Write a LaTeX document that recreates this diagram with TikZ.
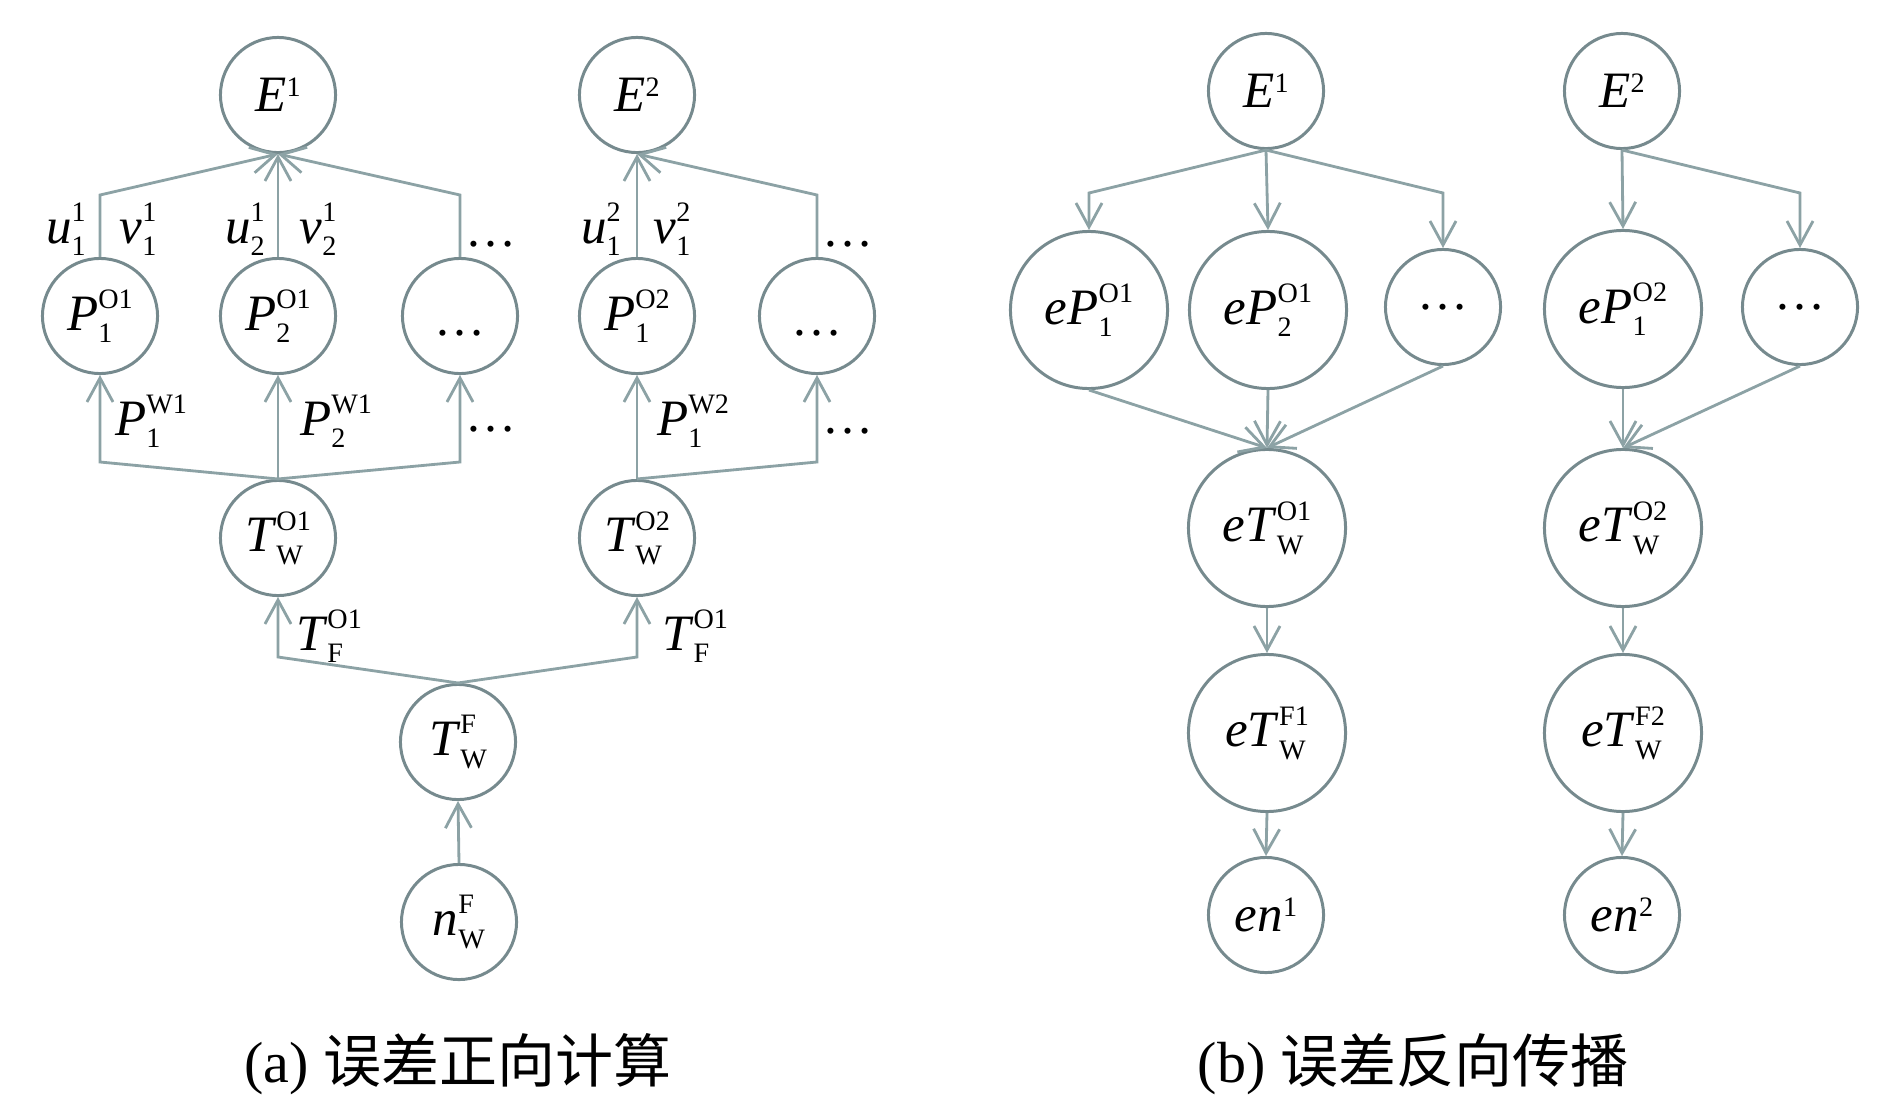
\documentclass[tikz,border=0pt]{standalone}
\usepackage{fontspec}
\setmainfont{Liberation Serif}
\newfontfamily\cjk{Noto Sans CJK SC}
\usetikzlibrary{arrows.meta}
\definecolor{circ}{RGB}{118,138,142}
\definecolor{conn}{RGB}{140,162,165}
\newcommand\SupSub[2]{{\fontsize{8}{8}\selectfont
 \setbox0\hbox{#1}\setbox2\hbox{#2}%
 \ifdim\wd0>\wd2 \dimen0=\wd0 \else\dimen0=\wd2 \fi
 \hbox to\dimen0{\rlap{\raise6.2pt\box0}\rlap{\lower3.5pt\box2}\hss}}}
\newcommand\SupOnly[1]{{\fontsize{8}{8}\selectfont\raise4.2pt\hbox{#1}}}
\tikzset{
 sm/.style={circle,draw=circ,line width=0.85pt,minimum size=1.15cm,inner sep=0pt,font=\fontsize{14.5}{16}\selectfont},
 bg/.style={sm,minimum size=1.57cm},
 con/.style={draw=conn,line width=0.8pt,-{Straight Barb[length=2.4mm,width=2.6mm]}},
 lab/.style={inner sep=0pt,font=\fontsize{14.5}{16}\selectfont},
 captext/.style={inner sep=0pt,anchor=base,font=\fontsize{16.5}{18}\selectfont}
}
\begin{document}
\begin{tikzpicture}[x=0.01cm,y=-0.01cm]
\useasboundingbox (0,0) rectangle (1890,1100);
% ---------- panel (a) ----------
\node[sm] (E1) at (278,95) {\textit{E}\SupOnly{1}};
\node[sm] (E2) at (637,95) {\textit{E}\SupOnly{2}};
\node[sm] (P11) at (100,316) {\textit{P}\SupSub{O1}{1}};
\node[sm] (P21) at (278,316) {\textit{P}\SupSub{O1}{2}};
\node[sm] (Pd1) at (460,316) {\raisebox{-5.5pt}[0pt][0pt]{…}};
\node[sm] (P12) at (637,316) {\textit{P}\SupSub{O2}{1}};
\node[sm] (Pd2) at (817,316) {\raisebox{-5.5pt}[0pt][0pt]{…}};
\node[sm] (TO1) at (278,538) {\textit{T}\SupSub{O1}{W}};
\node[sm] (TO2) at (637,538) {\textit{T}\SupSub{O2}{W}};
\node[sm] (TF) at (458,742) {\textit{T}\SupSub{F}{W}};
\node[sm] (nF) at (459,922) {\textit{n}\SupSub{F}{W}};
\coordinate (a1) at (100,195);
\coordinate (a2) at (460,195);
\coordinate (a3) at (817,195);
\coordinate (b1) at (100,462);
\coordinate (b2) at (460,462);
\coordinate (b3) at (817,462);
\coordinate (c1) at (278,657);
\coordinate (c2) at (637,657);
\draw[con] (P11.north) -- (a1) -- (E1.south);
\draw[con] (P21.north) -- (E1.south);
\draw[con] (Pd1.north) -- (a2) -- (E1.south);
\draw[con] (P12.north) -- (E2.south);
\draw[con] (Pd2.north) -- (a3) -- (E2.south);
\draw[con] (TO1.north) -- (b1) -- (P11.south);
\draw[con] (TO1.north) -- (P21.south);
\draw[con] (TO1.north) -- (b2) -- (Pd1.south);
\draw[con] (TO2.north) -- (P12.south);
\draw[con] (TO2.north) -- (b3) -- (Pd2.south);
\draw[con] (TF.north) -- (c1) -- (TO1.south);
\draw[con] (TF.north) -- (c2) -- (TO2.south);
\draw[con] (nF.north) -- (TF.south);
% labels
\node[lab] (lu11) at (66,229) {\textit{u}\SupSub{1}{1}};
\node[lab] (lv11) at (138,229) {\textit{v}\SupSub{1}{1}};
\node[lab] (lu21) at (245,229) {\textit{u}\SupSub{1}{2}};
\node[lab] (lv21) at (318,229) {\textit{v}\SupSub{1}{2}};
\node[lab,anchor=base] (ld1) at (491,246) {…};
\node[lab] (lu12) at (601,229) {\textit{u}\SupSub{2}{1}};
\node[lab] (lv12) at (672,229) {\textit{v}\SupSub{2}{1}};
\node[lab,anchor=base] (ld2) at (848,246) {…};
\node[lab] (lpw1) at (151,421) {\textit{P}\SupSub{W1}{1}};
\node[lab] (lpw2) at (336,421) {\textit{P}\SupSub{W1}{2}};
\node[lab,anchor=base] (ld3) at (491,431) {…};
\node[lab] (lpw3) at (693,421) {\textit{P}\SupSub{W2}{1}};
\node[lab,anchor=base] (ld4) at (848,433) {…};
\node[lab] (ltf1) at (329,636) {\textit{T}\SupSub{O1}{F}};
\node[lab] (ltf2) at (695,636) {\textit{T}\SupSub{O1}{F}};
\node[captext] (capa) at (458,1082) {(a) {\cjk 误差正向计算}};
% ---------- panel (b) ----------
\node[sm] (bE1) at (1266,91) {\textit{E}\SupOnly{1}};
\node[sm] (bE2) at (1622,91) {\textit{E}\SupOnly{2}};
\node[bg] (eP11) at (1089,310) {\textit{eP}\SupSub{O1}{1}};
\node[bg] (eP21) at (1268,310) {\textit{eP}\SupSub{O1}{2}};
\node[sm] (ePd1) at (1443,307) {…};
\node[bg] (eP12) at (1623,309) {\textit{eP}\SupSub{O2}{1}};
\node[sm] (ePd2) at (1800,307) {…};
\node[bg] (eTO1) at (1267,528) {\textit{eT}\SupSub{O1}{W}};
\node[bg] (eTO2) at (1623,528) {\textit{eT}\SupSub{O2}{W}};
\node[bg] (eTF1) at (1267,733) {\textit{eT}\SupSub{F1}{W}};
\node[bg] (eTF2) at (1623,733) {\textit{eT}\SupSub{F2}{W}};
\node[sm] (en1) at (1266,915) {\textit{en}\SupOnly{1}};
\node[sm] (en2) at (1622,915) {\textit{en}\SupOnly{2}};
\coordinate (d1) at (1089,193);
\coordinate (d2) at (1443,193);
\coordinate (d3) at (1800,193);
\draw[con] (bE1.south) -- (d1) -- (eP11.north);
\draw[con] (bE1.south) -- (eP21.north);
\draw[con] (bE1.south) -- (d2) -- (ePd1.north);
\draw[con] (bE2.south) -- (eP12.north);
\draw[con] (bE2.south) -- (d3) -- (ePd2.north);
\draw[con] (eP11.south) -- (eTO1.north);
\draw[con] (eP21.south) -- (eTO1.north);
\draw[con] (ePd1.south) -- (eTO1.north);
\draw[con] (eP12.south) -- (eTO2.north);
\draw[con] (ePd2.south) -- (eTO2.north);
\draw[con] (eTO1.south) -- (eTF1.north);
\draw[con] (eTO2.south) -- (eTF2.north);
\draw[con] (eTF1.south) -- (en1.north);
\draw[con] (eTF2.south) -- (en2.north);
\node[captext] (capb) at (1413,1082) {(b) {\cjk 误差反向传播}};
\end{tikzpicture}
\end{document}
